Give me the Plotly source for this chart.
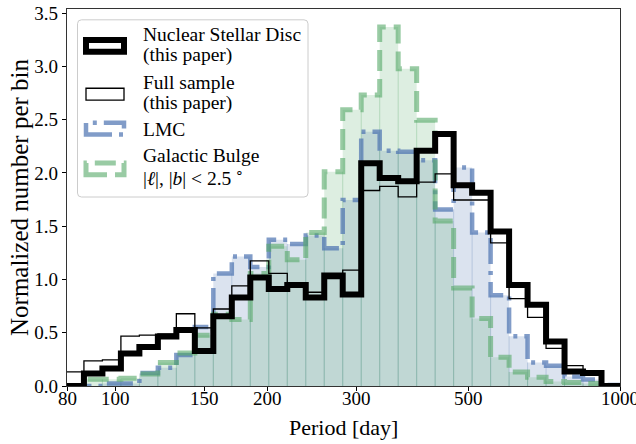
import numpy as np
import plotly.graph_objects as go

# 30 equal bins in log10(P/day) between 1.9 and 3.0
log_edges = np.linspace(1.9, 3.0, 31)
period_edges = 10 ** log_edges

# normalized number per bin (one value per bin)
nsd = [0.0, 0.118, 0.164, 0.304, 0.365, 0.465, 0.526, 0.329, 0.654, 0.831,
       1.018, 0.910, 0.949, 0.831, 1.038, 0.860, 2.091, 1.953, 1.923, 2.209,
       2.366, 1.884, 1.815, 1.451, 0.949, 0.762, 0.417, 0.137, 0.122, 0.0]
full_sample = [0.132, 0.236, 0.245, 0.468, 0.477, 0.489, 0.678, 0.545, 0.723, 0.939,
               1.175, 1.057, 0.929, 0.880, 1.008, 1.087, 1.835, 1.874, 1.776, 1.914,
               1.992, 1.746, 1.746, 1.343, 0.821, 0.644, 0.354, 0.191, 0.142, 0.0]
lmc = [0.0, 0.0, 0.024, 0.024, 0.122, 0.171, 0.290, 0.555, 1.057, 1.215,
       1.116, 1.372, 1.333, 1.412, 1.293, 1.746, 2.386, 2.209, 2.199, 2.120,
       1.658, 2.051, 1.441, 0.851, 0.467, 0.221, 0.191, 0.090, 0.060, 0.010]
bulge = [0.0, 0.063, 0.063, 0.073, 0.112, 0.221, 0.309, 0.477, 0.673, 0.624,
         1.057, 1.313, 1.185, 1.441, 2.012, 2.593, 2.731, 3.370, 2.977, 2.494,
         1.549, 0.919, 0.634, 0.270, 0.132, 0.083, 0.043, 0.034, 0.024, 0.0]

x_ticks = [80, 100, 150, 200, 300, 500, 1000]
y_ticks = [0.0, 0.5, 1.0, 1.5, 2.0, 2.5, 3.0, 3.5]

BLUE = "76,114,176"
GREEN = "85,168,104"
FONT = "Liberation Serif, Times New Roman, serif"

# plot area in pixels (used to place the hand-made legend and labels)
X0, X1, Y0, Y1 = 67, 620, 3, 386


def fx(px):
    return (px - X0) / (X1 - X0)


def fy(py):
    return (Y1 - py) / (Y1 - Y0)


def step_xy(vals):
    x = [period_edges[0]] + list(period_edges[:-1]) + [period_edges[-1]] * 2
    y = [0] + list(vals) + [vals[-1], 0]
    return x, y


def edge_xy(vals):
    xs, ys = [], []
    for i in range(1, len(vals)):
        h = min(vals[i - 1], vals[i])
        if h > 0:
            xs += [period_edges[i], period_edges[i], None]
            ys += [0, h, None]
    return xs, ys


fig = go.Figure()

# filled histograms
for vals, rgb in [(lmc, BLUE), (bulge, GREEN)]:
    x, y = step_xy(vals)
    fig.add_trace(go.Scatter(x=x, y=y, mode="lines", line_shape="hv",
                             line=dict(width=0), fill="tozeroy",
                             fillcolor=f"rgba({rgb},0.2)", hoverinfo="skip"))
for vals, rgb, a in [(lmc, BLUE, 0.25), (bulge, GREEN, 0.3)]:
    x, y = edge_xy(vals)
    fig.add_trace(go.Scatter(x=x, y=y, mode="lines",
                             line=dict(color=f"rgba({rgb},{a})", width=1),
                             hoverinfo="skip"))

# outlines
outlines = [
    (lmc, f"rgba({BLUE},0.7)", 4.5, "26px,7px,4px,7px"),
    (bulge, f"rgba({GREEN},0.6)", 5, "21px,8px"),
    (full_sample, "black", 1.3, "solid"),
    (nsd, "black", 6, "solid"),
]
for vals, color, w, dash in outlines:
    x, y = step_xy(vals)
    fig.add_trace(go.Scatter(x=x, y=y, mode="lines", line_shape="hv",
                             line=dict(color=color, width=w, dash=dash),
                             hoverinfo="skip"))

# legend drawn by hand (matplotlib-style patch handles)
shapes = []
lx0, lx1, ly0, ly1, r = 77.5, 308, 14, 194, 4
path = (f"M {fx(lx0 + r)},{fy(ly0)} L {fx(lx1 - r)},{fy(ly0)} "
        f"Q {fx(lx1)},{fy(ly0)} {fx(lx1)},{fy(ly0 + r)} "
        f"L {fx(lx1)},{fy(ly1 - r)} Q {fx(lx1)},{fy(ly1)} {fx(lx1 - r)},{fy(ly1)} "
        f"L {fx(lx0 + r)},{fy(ly1)} Q {fx(lx0)},{fy(ly1)} {fx(lx0)},{fy(ly1 - r)} "
        f"L {fx(lx0)},{fy(ly0 + r)} Q {fx(lx0)},{fy(ly0)} {fx(lx0 + r)},{fy(ly0)} Z")
shapes.append(dict(type="path", path=path, xref="paper", yref="paper",
                   fillcolor="rgba(255,255,255,0.8)",
                   line=dict(color="#cccccc", width=1), layer="above"))

handles = [
    (40.5, "black", 6, "solid"),
    (89.5, "black", 1.3, "solid"),
    (124.5, f"rgba({BLUE},0.7)", 4.5, "26px,7px,4px,7px"),
    (165.5, f"rgba({GREEN},0.6)", 5, "21px,8px"),
]
for cy, color, w, dash in handles:
    shapes.append(dict(type="rect", xref="paper", yref="paper",
                       x0=fx(86), x1=fx(124), y0=fy(cy + 6), y1=fy(cy - 6),
                       line=dict(color=color, width=w, dash=dash), layer="above"))

legend_lines = [
    (29, "Nuclear Stellar Disc"),
    (50, "(this paper)"),
    (78, "Full sample"),
    (99, "(this paper)"),
    (125, "LMC"),
    (152, "Galactic Bulge"),
    (174, "|<i>ℓ</i>|, |<i>b</i>| &lt; 2.5&#8201;<sup>∘</sup>"),
]
annotations = []
for cy, txt in legend_lines:
    annotations.append(dict(text=txt, xref="paper", yref="paper", x=fx(141), y=fy(cy),
                            xanchor="left", yanchor="middle", showarrow=False,
                            font=dict(size=19.5, color="black", family=FONT)))

# x tick labels
for t in x_ticks:
    annotations.append(dict(text=str(t), xref="x", yref="paper", x=np.log10(t),
                            y=fy(399), xanchor="center", yanchor="middle",
                            showarrow=False,
                            font=dict(size=19, color="black", family=FONT)))

annotations.append(dict(text="Period [day]", xref="paper", yref="paper",
                        x=fx(343.5), y=fy(428), xanchor="center", yanchor="middle",
                        showarrow=False, font=dict(size=22, color="black", family=FONT)))
annotations.append(dict(text="Normalized number per bin", xref="paper", yref="paper",
                        x=fx(20), y=fy(195), xanchor="center", yanchor="middle",
                        textangle=-90, showarrow=False,
                        font=dict(size=25, color="black", family=FONT)))

fig.update_layout(
    width=636, height=444,
    margin=dict(l=X0, r=636 - X1, t=Y0, b=444 - Y1),
    plot_bgcolor="white", paper_bgcolor="white",
    showlegend=False,
    font=dict(family=FONT, size=19, color="black"),
    shapes=shapes, annotations=annotations,
)
fig.update_xaxes(type="log", range=[np.log10(80), 3.0],
                 tickvals=x_ticks, showticklabels=False,
                 ticks="outside", ticklen=4, tickwidth=1, tickcolor="black",
                 showgrid=False, zeroline=False,
                 showline=True, linecolor="#333333", linewidth=1.2, mirror=True)
fig.update_yaxes(range=[0, 3.539], tickvals=y_ticks,
                 ticktext=[f"{t:.1f}" for t in y_ticks], ticklabeloverflow="allow",
                 ticks="outside", ticklen=4, tickwidth=1, tickcolor="black",
                 showgrid=False, zeroline=False,
                 showline=True, linecolor="#333333", linewidth=1.2, mirror=True)

fig.write_html("out.html", config={"displayModeBar": False},
               post_script="document.body.style.margin = '0px';")
